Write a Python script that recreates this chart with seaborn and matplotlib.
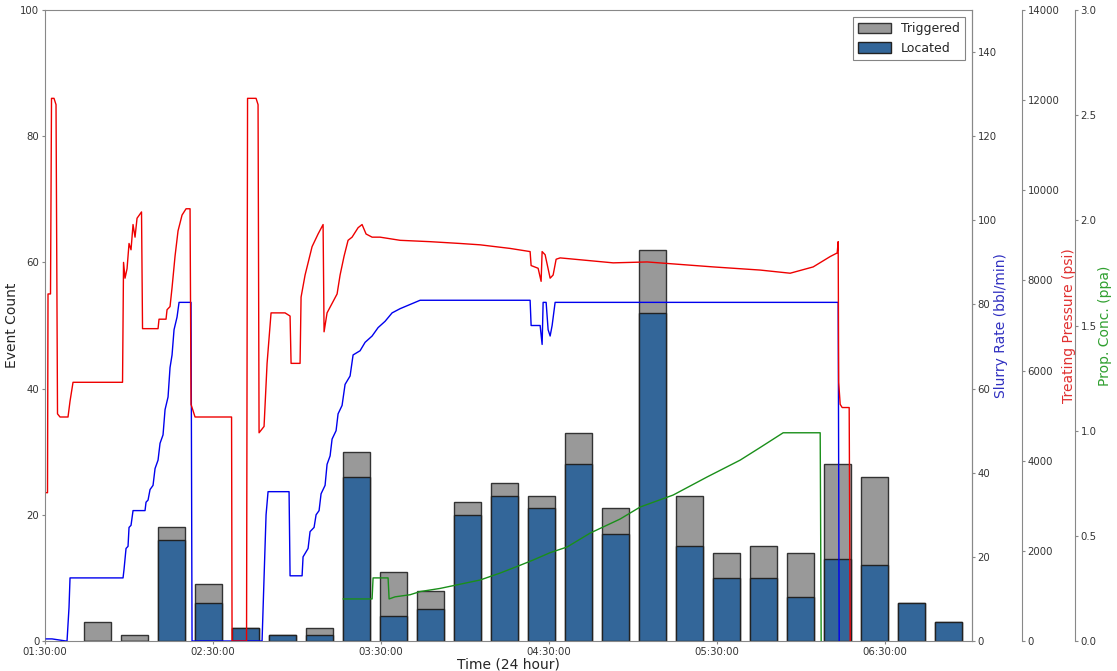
import matplotlib
matplotlib.use("Agg")
import matplotlib.pyplot as plt
import seaborn as sns
from matplotlib.ticker import FuncFormatter, FixedLocator

sns.set_style("ticks")
plt.rcParams['font.family'] = ['DejaVu Sans']

# ---- data (time in minutes after 01:30:00) ----
bin_minutes = [18.8, 32.0, 45.2, 58.4, 71.6, 84.8, 98.0, 111.3, 124.5, 137.7, 150.9, 164.1,
               177.3, 190.5, 203.8, 217.0, 230.2, 243.4, 256.6, 269.8, 283.0, 296.3, 309.5, 322.7]
triggered = [3, 1, 18, 9, 2, 1, 2, 30, 11, 8, 22, 25, 23, 33, 21, 62, 23, 14, 15, 14, 28, 26, 6, 3]
located = [0, 0, 16, 6, 2, 1, 1, 26, 4, 5, 20, 23, 21, 28, 17, 52, 15, 10, 10, 7, 13, 12, 6, 3]

tick_minutes = [0, 60, 120, 180, 240, 300]
tick_labels = ["01:30:00", "02:30:00", "03:30:00", "04:30:00", "05:30:00", "06:30:00"]

pressure_t = [0.54, 0.89, 1.07, 1.96, 2.32, 3.21, 3.93, 4.46, 5.36, 8.21, 8.93, 10.0, 27.68, 28.04,
              28.57, 29.29, 30.0, 30.71, 31.43, 32.14, 32.86, 34.46, 34.82, 40.36, 40.71, 43.21,
              43.57, 44.64, 45.36, 46.43, 47.5, 48.93, 50.36, 51.79, 52.14, 53.57, 66.61, 66.79,
              71.96, 72.32, 75.36, 76.07, 76.43, 78.21, 79.29, 80.71, 85.71, 87.5, 87.86, 91.07,
              91.43, 92.86, 95.36, 97.5, 99.29, 99.64, 100.71, 104.29, 105.36, 106.79, 108.21,
              109.64, 111.79, 113.21, 114.64, 116.79, 119.64, 126.79, 137.5, 148.21, 155.36,
              166.07, 173.21, 173.57, 176.07, 177.14, 177.5, 178.57, 180.36, 181.43, 182.5,
              183.93, 202.86, 215.0, 238.57, 255.36, 266.07, 274.29, 280.36, 282.86, 283.21,
              283.39, 283.93, 284.64, 287.14, 287.5]
pressure_psi = [3290, 3290, 7700, 7700, 12040, 12040, 11900, 5040, 4970, 4970, 5320, 5740, 5740, 8400,
                8050, 8260, 8820, 8680, 9240, 8960, 9380, 9520, 6930, 6930, 7140, 7140,
                7350, 7420, 7840, 8540, 9100, 9450, 9590, 9590, 5250, 4970, 4970, 0,
                0, 12040, 12040, 11900, 4620, 4760, 6160, 7280, 7280, 7210, 6160, 6160,
                7630, 8120, 8750, 9030, 9240, 6860, 7280, 7700, 8120, 8540, 8890,
                8960, 9170, 9240, 9030, 8960, 8960, 8890, 8860, 8820, 8790,
                8710, 8640, 8330, 8270, 7980, 8640, 8570, 8050, 8120, 8470,
                8500, 8390, 8410, 8300, 8230, 8160, 8300, 8530, 8610, 8860,
                5740, 5250, 5180, 5180, 0]

slurry_t = [0.36, 2.5, 7.5, 7.86, 8.57, 8.93, 27.86, 28.21, 28.93, 29.64, 30.0, 30.71, 31.43, 35.71,
            36.07, 36.79, 37.5, 38.57, 39.29, 40.36, 41.07, 42.14, 42.86, 43.93, 44.64, 45.36,
            46.07, 47.14, 47.86, 52.14, 52.5, 77.5, 78.21, 78.93, 79.64, 87.14, 87.5, 91.79,
            92.14, 93.93, 94.64, 96.07, 96.79, 97.86, 98.57, 100.0, 100.71, 101.79, 102.5,
            103.93, 104.64, 106.07, 107.14, 108.93, 110.0, 112.5, 114.29, 116.79, 118.93,
            121.43, 123.93, 126.79, 130.36, 133.93, 173.21, 173.57, 176.79, 177.5, 177.86,
            178.93, 179.64, 180.36, 181.07, 182.14, 283.21, 283.57]
slurry_bpm = [0.5, 0.5, 0, 0, 8, 15, 15, 17, 22, 22.5, 27, 27.5, 31, 31,
              33, 33.5, 36, 37, 41, 43, 47, 49, 55, 58, 65, 68,
              74, 77, 80.5, 80.5, 0, 0, 15, 30, 35.5, 35.5, 15.5, 15.5,
              20, 22, 26, 27, 30, 31, 35, 37, 42, 44, 48,
              50, 54, 56, 61, 63, 68, 69, 71, 72.5, 74.5,
              76, 78, 79, 80, 81, 81, 75, 75, 70.5, 80.5,
              80.5, 74, 72.5, 75, 80.5, 80.5, 0]

prop_t = [106.43, 116.79, 117.14, 122.5, 122.86, 125.0, 130.36, 133.93, 141.07, 148.21, 155.36,
          162.5, 169.64, 174.29, 180.36, 186.43, 194.64, 205.36, 212.5, 224.29, 236.43, 248.21,
          255.36, 263.57, 276.79, 277.14]
prop_ppa = [0.2, 0.2, 0.3, 0.3, 0.2, 0.21, 0.22, 0.235, 0.25, 0.27, 0.29,
            0.323, 0.36, 0.385, 0.42, 0.447, 0.513, 0.58, 0.637, 0.694, 0.78, 0.86,
            0.92, 0.99, 0.99, 0.0]

# ---- figure ----
fig = plt.figure(figsize=(11.17, 6.71), dpi=100)
ax = fig.add_axes([0.0403, 0.0447, 0.8299, 0.9404])

spine_col = "#888888"
tick_fs = 7.3

sns.barplot(x=bin_minutes, y=triggered, native_scale=True, width=0.73, color="#999999",
            saturation=1, edgecolor="#333333", linewidth=1.0, label="Triggered", ax=ax)
sns.barplot(x=bin_minutes, y=located, native_scale=True, width=0.73, color="#336699",
            saturation=1, edgecolor="#222222", linewidth=1.0, label="Located", ax=ax)

ax.set_xlim(0, 331)
ax.set_ylim(0, 100)
ax.xaxis.set_major_locator(FixedLocator(tick_minutes))
ax.set_xticklabels(tick_labels)
ax.set_yticks([0, 20, 40, 60, 80, 100])
ax.tick_params(axis='both', labelsize=tick_fs, length=2.5, width=0.8, colors="#333333",
               direction='out', pad=1.5)
ax.tick_params(axis='both', color=spine_col)
for s in ax.spines.values():
    s.set_color(spine_col)
ax.set_xlabel("Time (24 hour)", fontsize=10)
ax.set_ylabel("Event Count", fontsize=10)
ax.yaxis.set_label_coords(-0.0286, 0.5)
ax.xaxis.set_label_coords(0.5, -0.0255)

leg = ax.legend(loc='upper right', fontsize=9, frameon=True, fancybox=False,
                edgecolor="#666666", borderaxespad=0.6, handlelength=2.6, handleheight=0.9)
leg.get_frame().set_linewidth(0.8)

# slurry rate axis
ax2 = ax.twinx()
sns.lineplot(x=slurry_t, y=slurry_bpm, ax=ax2, color="#0000ee", lw=1.0,
             estimator=None, sort=False)
ax2.set_ylim(0, 150)
ax2.set_yticks([0, 20, 40, 60, 80, 100, 120, 140])
ax2.set_ylabel("Slurry Rate (bbl/min)", color="#3030c0", fontsize=10)
ax2.yaxis.set_label_coords(1.0232, 0.5)

# treating pressure axis
ax3 = ax.twinx()
ax3.spines['right'].set_position(('axes', 1.054))
sns.lineplot(x=pressure_t, y=pressure_psi, ax=ax3, color="#ee0000", lw=1.0,
             estimator=None, sort=False)
ax3.set_ylim(0, 14000)
ax3.set_yticks(range(0, 14001, 2000))
ax3.set_ylabel("Treating Pressure (psi)", color="#e03030", fontsize=10)
ax3.yaxis.set_label_coords(1.0966, 0.5)

# proppant concentration axis
ax4 = ax.twinx()
ax4.spines['right'].set_position(('axes', 1.111))
sns.lineplot(x=prop_t, y=prop_ppa, ax=ax4, color="#1a8f1a", lw=1.0,
             estimator=None, sort=False)
ax4.set_ylim(0, 3.0)
ax4.set_yticks([0, 0.5, 1.0, 1.5, 2.0, 2.5, 3.0])
ax4.yaxis.set_major_formatter(FuncFormatter(lambda v, p: f"{v:.1f}"))
ax4.set_ylabel("Prop. Conc. (ppa)", color="#30a030", fontsize=10)
ax4.yaxis.set_label_coords(1.1354, 0.5)

for a in (ax2, ax3, ax4):
    a.set_xlim(0, 331)
    a.tick_params(axis='y', labelsize=tick_fs, length=2.5, width=0.8, colors="#333333",
                  color=spine_col, direction='out', pad=1.5)
    for name, s in a.spines.items():
        s.set_color(spine_col)
        if name != 'right':
            s.set_visible(False)
ax2.spines['right'].set_visible(True)

fig.savefig("out.png", dpi=100)
